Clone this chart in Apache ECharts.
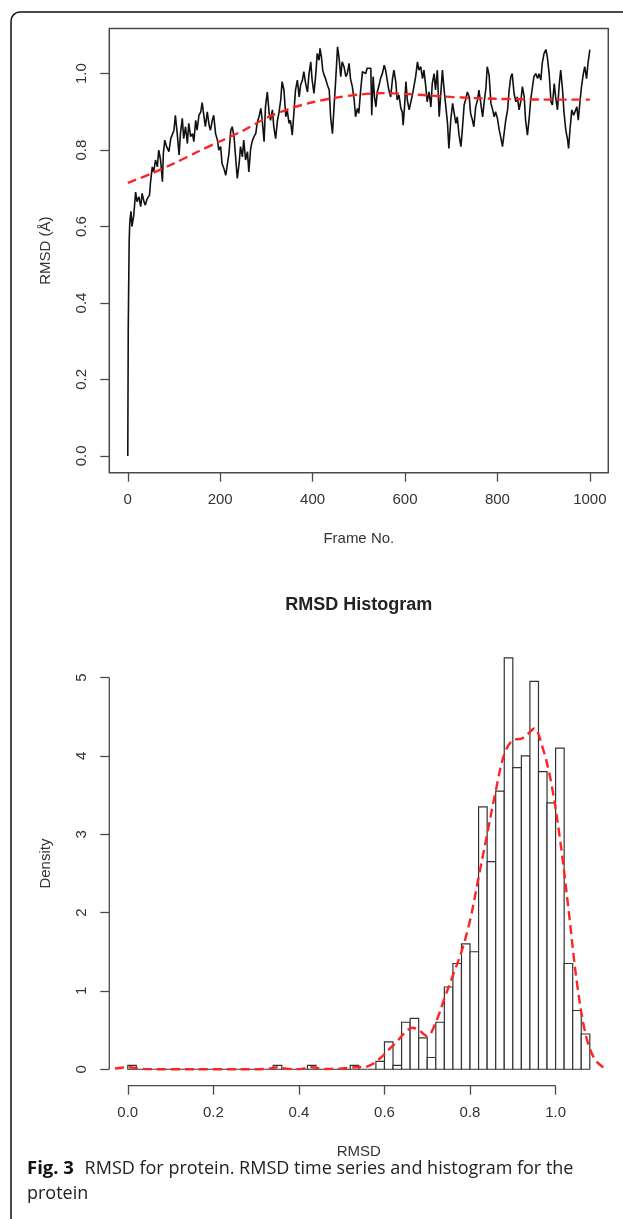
<!DOCTYPE html>
<html><head><meta charset="utf-8">
<script src="https://cdn.jsdelivr.net/npm/echarts@6/dist/echarts.min.js"></script>
<style>html,body{margin:0;padding:0;background:#fff}#c{width:623px;height:1219px}</style>
</head><body><div id="c"></div>
<script>
// ---- Time series (RMSD vs frame) ----
const frames = [0,1,2,3,4,5,7,9,11,13,17,20,24,28,31,35,38,42,47,49,53,56,60,64,67,71,75,77,80,84,89,93,96,100,103,107,111,114,118,121,125,129,132,136,140,143,147,150,154,158,161,165,168,172,176,179,183,186,190,194,197,201,204,208,212,215,219,223,226,230,233,237,241,244,248,251,255,259,262,266,269,273,277,280,284,288,291,295,298,302,306,309,313,316,320,324,327,331,334,338,342,345,349,352,356,360,363,367,371,374,378,381,385,389,392,396,399,403,407,410,414,416,419,422,425,428,432,436,439,443,446,450,454,457,461,464,468,472,475,479,
482,486,490,493,497,500,504,508,511,515,518,522,526,528,531,534,537,540,544,547,551,555,558,562,565,569,573,576,580,583,587,591,594,596,599,602,605,609,612,616,620,623,627,630,634,638,641,645,648,652,656,659,663,666,670,674,677,681,684,688,692,695,699,703,706,710,713,717,721,724,728,731,735,739,742,746,749,753,757,760,764,768,771,775,778,782,786,789,793,796,800,804,807,811,814,818,822,825,829,832,836,840,843,847,851,854,858,861,865,869,872,876,879,883,887,890,894,897,901,905,908,912,916,919,923,926,930,934,937,941,944,948,952,954,957,961,965,968,972,975,979,982,986,989,993,996,998,1000];
const rmsd = [0.0,0.33,0.45,0.56,0.60,0.62,0.64,0.60,0.60,0.63,0.69,0.665,0.678,0.652,0.687,0.665,0.656,0.673,0.682,0.713,0.756,0.743,0.774,0.756,0.800,0.774,0.717,0.791,0.826,0.809,0.796,0.830,0.826,0.852,0.891,0.843,0.787,0.843,0.883,0.830,0.861,0.817,0.870,0.835,0.843,0.822,0.878,0.852,0.891,0.900,0.924,0.887,0.861,0.900,0.865,0.852,0.878,0.891,0.843,0.826,0.800,0.809,0.765,0.752,0.734,0.739,0.791,0.852,0.861,0.835,0.787,0.726,0.765,0.809,0.782,0.826,0.774,0.796,0.743,0.804,0.822,0.835,0.843,0.870,0.887,0.909,0.878,0.822,0.913,0.952,0.896,0.878,0.905,0.861,0.830,0.878,0.896,0.931,0.979,0.957,0.887,0.905,0.870,0.878,0.839,0.905,0.957,0.983,0.939,0.970,0.983,1.005,0.974,0.952,0.996,1.031,0.983,0.948,1.0,1.053,1.035,1.066,1.044,1.009,0.996,0.987,0.970,0.957,0.887,0.843,0.905,0.983,1.070,1.044,0.992,1.031,1.018,0.992,1.0,1.027,
0.987,0.966,0.931,0.887,0.909,0.896,0.957,1.005,1.009,1.0,1.014,1.009,1.014,0.891,0.992,0.939,0.913,0.952,0.970,0.987,1.0,1.022,1.009,0.979,0.957,0.939,0.987,1.009,0.979,0.931,0.944,0.909,0.900,0.865,0.913,0.979,0.931,0.905,0.922,0.944,0.948,0.992,1.031,1.009,1.018,0.987,1.009,0.966,0.926,0.952,0.913,0.974,1.0,0.957,1.009,0.887,0.939,1.009,0.966,0.918,0.870,0.804,0.878,0.922,0.900,0.870,0.887,0.839,0.809,0.852,0.918,0.931,0.952,0.939,0.896,0.878,0.861,0.913,0.931,0.957,0.922,0.887,0.922,0.961,1.018,0.996,0.922,0.909,0.887,0.900,0.883,0.852,0.835,0.809,0.839,0.878,0.905,0.952,0.992,1.0,0.948,0.926,0.939,0.905,0.931,0.966,0.939,0.878,0.839,0.887,0.931,0.966,0.992,1.0,0.987,1.0,0.983,1.027,1.053,1.063,1.044,1.0,0.926,0.918,0.974,0.939,0.905,0.974,1.009,0.957,0.900,0.852,0.826,0.804,0.852,0.905,0.891,0.887,0.913,0.878,0.931,0.966,1.0,1.018,0.987,1.027,1.044,1.063];
const fitFrames = [0,50,100,150,200,250,300,350,400,450,500,550,600,650,700,750,800,850,900,950,1000];
const fitRmsd = [0.714,0.738,0.765,0.795,0.823,0.851,0.884,0.908,0.925,0.937,0.945,0.949,0.947,0.943,0.939,0.936,0.934,0.933,0.932,0.932,0.932];
const tsXTicks = [0,200,400,600,800,1000];
const tsYTicks = [0,0.2,0.4,0.6,0.8,1.0];

// ---- Histogram ----
const histBreaks = [0,0.02,0.04,0.06,0.08,0.10,0.12,0.14,0.16,0.18,0.20,0.22,0.24,0.26,0.28,0.30,0.32,0.34,0.36,0.38,0.40,0.42,0.44,0.46,0.48,0.50,0.52,0.54,0.56,0.58,0.60,0.62,0.64,0.66,0.68,0.70,0.72,0.74,0.76,0.78,0.80,0.82,0.84,0.86,0.88,0.90,0.92,0.94,0.96,0.98,1.00,1.02,1.04,1.06,1.08];
const histDensity = [0.05,0,0,0,0,0,0,0,0,0,0,0,0,0,0,0,0,0.05,0,0,0,0.05,0,0,0,0,0.05,0,0,0.1,0.35,0.05,0.6,0.65,0.4,0.15,0.6,1.05,1.35,1.6,1.5,3.35,2.65,3.55,5.25,3.85,4.0,4.95,3.8,3.4,4.1,1.35,0.75,0.45];
const kdeX = [-0.03,-0.01,0.0,0.01,0.03,0.05,0.1,0.2,0.3,0.33,0.35,0.37,0.40,0.43,0.46,0.50,0.53,0.555,0.57,0.59,0.61,0.63,0.65,0.665,0.68,0.70,0.72,0.74,0.76,0.78,0.80,0.82,0.84,0.86,0.88,0.90,0.92,0.935,0.95,0.97,0.99,1.01,1.03,1.05,1.07,1.09,1.11,1.12];
const kdeY = [0.01,0.022,0.026,0.022,0.008,0.001,0,0,0,0.008,0.026,0.008,0.002,0.026,0.004,0.01,0.026,0.03,0.06,0.14,0.25,0.36,0.48,0.53,0.50,0.42,0.60,0.90,1.20,1.50,1.90,2.45,3.00,3.55,4.02,4.20,4.22,4.28,4.35,4.10,3.65,2.95,2.05,1.10,0.45,0.14,0.03,0.01];
const histXTicks = [0,0.2,0.4,0.6,0.8,1.0];
const histYTicks = [0,1,2,3,4,5];

const TS_X = [-40, 1040], TS_Y = [-0.044, 1.118];
const H_X = [-0.0432, 1.1232], H_Y = [-0.21, 5.46];
const FONT = '"Liberation Sans", Arial, sans-serif';
const TXT = '#333', AX = '#4a4a4a', RED = '#ff2424';
const G_LEFT = 109.3, G_W = 499, G_H = 444.2;

const chart = echarts.init(document.getElementById('c'), null, {renderer: 'canvas'});

function xAx(grid, range, ticks, fmt, name) {
  return {
    type: 'value', gridIndex: grid, min: range[0], max: range[1],
    axisLine: {show: false, onZero: false},
    axisTick: {show: true, customValues: ticks, length: 9, lineStyle: {color: AX, width: 1.3}},
    axisLabel: {customValues: ticks, formatter: fmt, fontSize: 15, fontFamily: FONT, color: TXT, margin: 20},
    splitLine: {show: false},
    name: name, nameLocation: 'middle', nameGap: 59,
    nameTextStyle: {fontSize: 15, fontFamily: FONT, color: TXT}
  };
}
function yAx(grid, range, ticks, fmt, name) {
  return {
    type: 'value', gridIndex: grid, min: range[0], max: range[1],
    axisLine: {show: false, onZero: false},
    axisTick: {show: true, customValues: ticks, length: 9, lineStyle: {color: AX, width: 1.3}},
    axisLabel: {customValues: ticks, formatter: fmt, fontSize: 15, fontFamily: FONT, color: TXT, margin: 20, rotate: 90},
    splitLine: {show: false},
    name: name, nameLocation: 'middle', nameGap: 56,
    nameTextStyle: {fontSize: 15, fontFamily: FONT, color: TXT}
  };
}

const histRects = histDensity.map((d, i) => [histBreaks[i], histBreaks[i + 1], d]);

chart.setOption({
  animation: false,
  grid: [
    {left: G_LEFT, top: 28.5, width: G_W, height: G_H, show: true, borderColor: AX, borderWidth: 1.5, backgroundColor: 'transparent'},
    {left: G_LEFT, top: 641.5, width: G_W, height: G_H, show: false}
  ],
  xAxis: [
    xAx(0, TS_X, tsXTicks, v => String(v), 'Frame No.'),
    xAx(1, H_X, histXTicks, v => v.toFixed(1), 'RMSD')
  ],
  yAxis: [
    yAx(0, TS_Y, tsYTicks, v => v.toFixed(1), 'RMSD (Å)'),
    yAx(1, H_Y, histYTicks, v => String(v), 'Density')
  ],
  series: [
    {type: 'line', xAxisIndex: 0, yAxisIndex: 0, data: frames.map((f, i) => [f, rmsd[i]]),
     symbol: 'none', lineStyle: {color: '#111', width: 1.6}, z: 3},
    {type: 'line', xAxisIndex: 0, yAxisIndex: 0, data: fitFrames.map((f, i) => [f, fitRmsd[i]]),
     symbol: 'none', smooth: 0.3, lineStyle: {color: RED, width: 2.4, type: [9, 5]}, z: 4},
    {type: 'custom', xAxisIndex: 1, yAxisIndex: 1, data: histRects, z: 2,
     renderItem: function (params, api) {
       const p0 = api.coord([api.value(0), 0]);
       const p1 = api.coord([api.value(1), api.value(2)]);
       return {type: 'rect', shape: {x: p0[0], y: p1[1], width: p1[0] - p0[0], height: p0[1] - p1[1]},
               style: {fill: '#fff', stroke: '#333', lineWidth: 1.2}};
     }},
    {type: 'line', xAxisIndex: 1, yAxisIndex: 1, data: kdeX.map((x, i) => [x, kdeY[i]]),
     symbol: 'none', smooth: 0.35, clip: false, lineStyle: {color: RED, width: 2.4, type: [9, 5]}, z: 4},
    // R-style axis lines spanning only the tick range
    {type: 'line', xAxisIndex: 1, yAxisIndex: 1, clip: false, symbol: 'none', silent: true,
     data: [[histXTicks[0], H_Y[0]], [histXTicks[histXTicks.length - 1], H_Y[0]]], lineStyle: {color: AX, width: 1.3}},
    {type: 'line', xAxisIndex: 1, yAxisIndex: 1, clip: false, symbol: 'none', silent: true,
     data: [[H_X[0], histYTicks[0]], [H_X[0], histYTicks[histYTicks.length - 1]]], lineStyle: {color: AX, width: 1.3}}
  ],
  graphic: [
    {type: 'rect', shape: {x: 11, y: 12, width: 800, height: 1400, r: 9}, style: {fill: 'none', stroke: '#111', lineWidth: 1.5}, silent: true},
    {type: 'text', x: 358.8, y: 605, style: {text: 'RMSD Histogram', textAlign: 'center', textVerticalAlign: 'middle',
      font: 'bold 18px "Liberation Sans", Arial, sans-serif', fill: '#222'}},
    {type: 'text', x: 27, y: 1156, style: {
      text: '{b|Fig. 3}  {n|RMSD for protein. RMSD time series and histogram for the}\n{n|protein}',
      rich: {
        b: {font: 'bold 18.5px "Open Sans", sans-serif', fill: '#111', lineHeight: 25, padding: [0, 4, 0, 0]},
        n: {font: '18px "Open Sans", sans-serif', fill: '#222', lineHeight: 25}
      }}}
  ]
});
</script></body></html>
